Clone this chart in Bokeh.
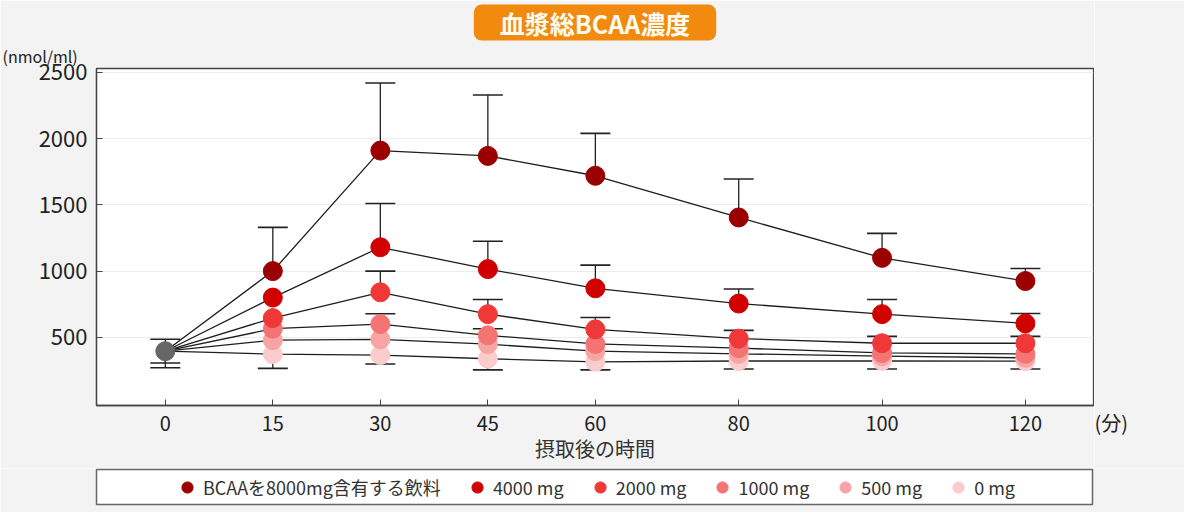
from bokeh.plotting import figure
from bokeh.layouts import column, row
from bokeh.models import (ColumnDataSource, Range1d, FixedTicker, Legend, LegendItem, Label, Title)
from bokeh.embed import file_html
from bokeh.resources import INLINE

FONT = "Noto Sans CJK JP"
BG = "#f3f3f3"

# ---------------- data ----------------
times = [0, 15, 30, 45, 60, 80, 100, 120]
x_ticks = [0, 15, 30, 45, 60, 80, 100, 120]
y_ticks = [500, 1000, 1500, 2000, 2500]

baseline = 395
baseline_hi = 485
baseline_lo = [306, 270]

series_names = ["BCAAを8000mg含有する飲料", "4000 mg", "2000 mg", "1000 mg", "500 mg", "0 mg"]
series_colors = ["#9a0000", "#d00000", "#f03838", "#f47474", "#f7a4a4", "#fbcccc"]

bcaa8000 = [395, 1000, 1910, 1870, 1720, 1405, 1100, 925]
bcaa4000 = [395, 800, 1180, 1015, 870, 755, 675, 605]
bcaa2000 = [395, 645, 840, 675, 560, 490, 455, 455]
bcaa1000 = [395, 565, 600, 515, 450, 418, 382, 375]
bcaa500 = [395, 478, 485, 448, 395, 375, 358, 345]
bcaa0 = [395, 373, 366, 338, 315, 321, 322, 320]

# error-bar ends for t = 15 ... 120 (None = not drawn)
hi8000 = [1330, 2420, 2330, 2040, 1695, 1285, 1020]
hi4000 = [None, 1510, 1225, 1045, 865, 785, 680]
hi2000 = [None, 1000, 785, 650, 552, 507, 507]
hi1000 = [None, 678, 565, None, None, None, None]
hi500 = [None] * 7
hi0 = [None] * 7
lo0 = [265, 298, 254, 254, 261, 261, 261]

series_values = [bcaa8000, bcaa4000, bcaa2000, bcaa1000, bcaa500, bcaa0]
series_hi = [hi8000, hi4000, hi2000, hi1000, hi500, hi0]
series_lo = [[None] * 7, [None] * 7, [None] * 7, [None] * 7, [None] * 7, lo0]

# ---------------- main figure ----------------
FRAME_W, FRAME_H = 997, 337
TOP, BOTTOM, LEFT, RIGHT = 68, 63, 96, 1
p = figure(frame_width=FRAME_W, frame_height=FRAME_H, output_backend="svg", toolbar_location=None,
           x_range=Range1d(-9.6, 129.5), y_range=Range1d(-15, 2530), title=None,
           min_border_left=LEFT, min_border_right=RIGHT, min_border_top=TOP, min_border_bottom=BOTTOM)
p.border_fill_color = BG
p.background_fill_color = "white"
p.outline_line_color = "#444444"
p.outline_line_width = 1.3

p.xgrid.visible = False
p.ygrid.ticker = FixedTicker(ticks=y_ticks)
p.ygrid.grid_line_color = "#ececec"

p.xaxis.ticker = FixedTicker(ticks=x_ticks)
p.yaxis.ticker = FixedTicker(ticks=y_ticks)
for ax in (p.xaxis[0], p.yaxis[0]):
    ax.axis_line_color = "#444444"
    ax.axis_line_width = 1.3
    ax.major_tick_line_color = "#444444"
    ax.major_tick_in = 6
    ax.major_tick_out = 0
    ax.minor_tick_line_color = None
    ax.major_label_text_font = FONT
    ax.major_label_text_color = "#222222"
p.xaxis.major_label_text_font_size = "20px"
p.yaxis.major_label_text_font_size = "22px"
p.xaxis.major_label_standoff = 10
p.yaxis.major_label_standoff = 9
p.xaxis.axis_label = "摂取後の時間"
p.xaxis.axis_label_text_font = FONT
p.xaxis.axis_label_text_font_size = "20px"
p.xaxis.axis_label_text_font_style = "normal"
p.xaxis.axis_label_text_color = "#333333"
p.xaxis.axis_label_standoff = 0

# titles in the top side panel (side panels are not clipped to the frame)
unit_title = Title(text="(nmol/ml)", align="left", offset=-94, standoff=2,
                   text_font=FONT, text_font_size="16px", text_font_style="normal",
                   text_color="#222222")
main_title = Title(text="血漿総BCAA濃度", align="center", standoff=0,
                   text_font=FONT, text_font_size="25px", text_font_style="bold",
                   text_color="#fffdf2", background_fill_color="#f28a0f",
                   border_radius=8, padding=dict(left=26, right=26, top=0, bottom=0))
p.add_layout(unit_title, "above")
p.add_layout(main_title, "above")

# lines
for vals in series_values:
    p.line(times, vals, line_color="#1e1e1e", line_width=1.3)

# error bars
ex, ey0, ey1 = [], [], []
for vals, his, los in zip(series_values, series_hi, series_lo):
    for t, v, h, l in zip(times[1:], vals[1:], his, los):
        if h is not None:
            ex.append(t); ey0.append(v); ey1.append(h)
        if l is not None:
            ex.append(t); ey0.append(v); ey1.append(l)
for l in baseline_lo:
    ex.append(times[0]); ey0.append(baseline); ey1.append(l)
ex.append(times[0]); ey0.append(baseline); ey1.append(baseline_hi)

err = ColumnDataSource(dict(x=ex, y0=ey0, y1=ey1))
p.segment(x0="x", y0="y0", x1="x", y1="y1", source=err, line_color="#222222", line_width=1.3)
p.scatter(x="x", y="y1", source=err, marker="dash", size=30, line_color="#222222", line_width=1.6)

# markers (lowest dose first so that higher doses sit on top)
for name, color, vals in reversed(list(zip(series_names, series_colors, series_values))):
    src = ColumnDataSource(dict(t=times[1:], v=vals[1:]))
    p.scatter(x="t", y="v", source=src, size=19, fill_color=color, line_color=color)
p.scatter(x=[times[0]], y=[baseline], size=19, fill_color="#666666", line_color="#666666")

MAIN_H = TOP + FRAME_H + BOTTOM
MAIN_W = LEFT + FRAME_W + RIGHT

# ---------------- side strip with the unit of the x axis ----------------
SIDE_W = 1184 - MAIN_W
side = figure(frame_width=SIDE_W, frame_height=MAIN_H, output_backend="svg", toolbar_location=None,
              x_range=Range1d(0, SIDE_W), y_range=Range1d(MAIN_H, 0),
              x_axis_location=None, y_axis_location=None, title=None,
              min_border_left=0, min_border_right=0, min_border_top=0, min_border_bottom=0)
side.grid.visible = False
side.outline_line_color = None
side.background_fill_color = BG
side.border_fill_color = BG
side.add_layout(Label(x=0, y=422, x_units="canvas", y_units="canvas", text="(分)",
                      text_align="left", text_baseline="middle",
                      text_font=FONT, text_font_size="20px", text_color="#222222"))

# ---------------- legend strip ----------------
LEG_H = 512 - MAIN_H
lg = figure(frame_width=996, frame_height=35, output_backend="svg", toolbar_location=None,
            x_range=Range1d(0, 1), y_range=Range1d(0, 1), title=None,
            x_axis_location=None, y_axis_location=None,
            min_border_left=96, min_border_right=92, min_border_top=1,
            min_border_bottom=LEG_H - 36)
lg.grid.visible = False
lg.border_fill_color = BG
lg.background_fill_color = "white"
lg.outline_line_color = "#666666"
lg.outline_line_width = 1.5

items = []
for name, color in zip(series_names, series_colors):
    # legend swatch renderer; its single point lies outside the strip's ranges
    r = lg.scatter(x=[-5], y=[-5], size=16, fill_color=color, line_color=color)
    items.append(LegendItem(label=name, renderers=[r]))
legend = Legend(items=items, orientation="horizontal", location="center")
legend.label_text_font = FONT
legend.label_text_font_size = "18px"
legend.label_text_color = "#333333"
legend.glyph_width = 28
legend.glyph_height = 28
legend.label_height = 20
legend.label_standoff = 2
legend.spacing = 22
legend.padding = 0
legend.margin = 0
legend.border_line_alpha = 0
legend.background_fill_alpha = 0
lg.add_layout(legend)

layout = column(row(p, side, spacing=0), lg, spacing=0)
open("out.html", "w").write(file_html(layout, INLINE))
